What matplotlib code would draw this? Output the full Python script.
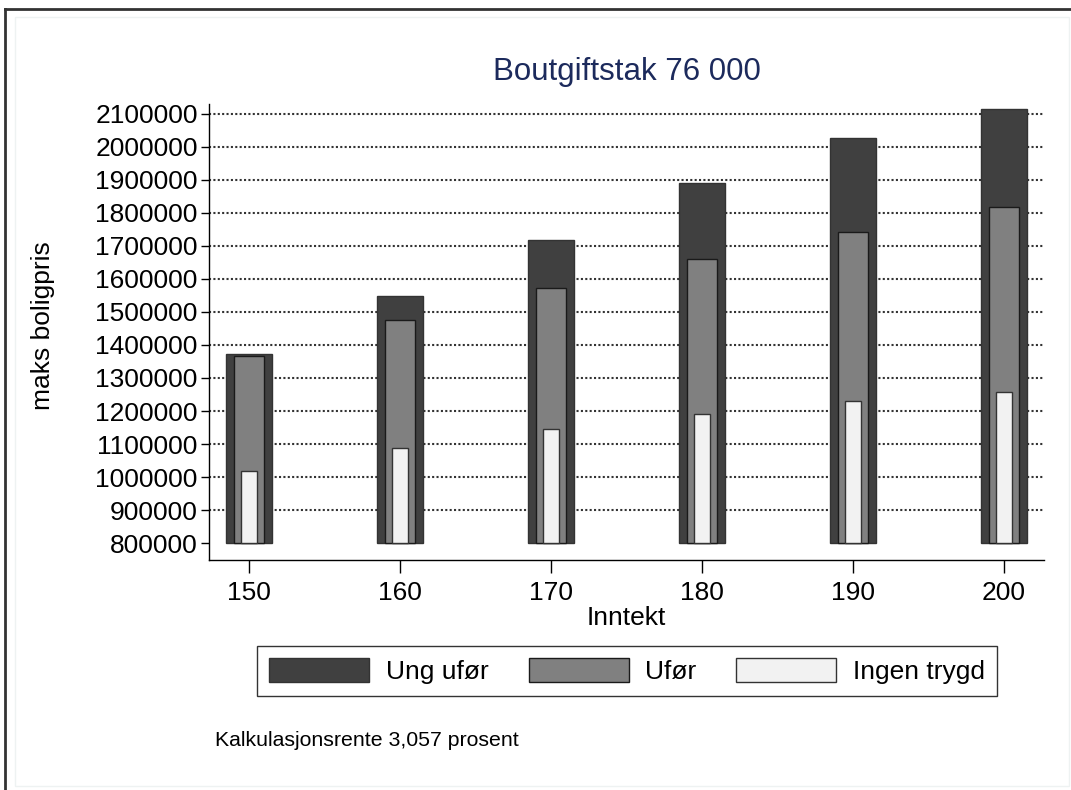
import matplotlib.pyplot as plt
from matplotlib.patches import Rectangle
from matplotlib.lines import Line2D
import numpy as np

plt.rcParams['font.family'] = ['Liberation Sans', 'DejaVu Sans']

inntekt = [150, 160, 170, 180, 190, 200]
ung_ufor = [1372700, 1548000, 1718000, 1892000, 2026000, 2114000]
ufor = [1368000, 1476000, 1572000, 1661000, 1743500, 1817000]
ingen_trygd = [1019000, 1087000, 1144000, 1192000, 1230000, 1256500]
base = 800000
yticks = np.arange(800000, 2100001, 100000)

fig = plt.figure(figsize=(10.71, 7.90), dpi=100)
ax = fig.add_axes([0.1951, 0.2911, 0.7797, 0.5773])

x = np.array(inntekt)
ax.bar(x, np.array(ung_ufor) - base, bottom=base, width=3.0,
       color='#404040', edgecolor='#333333', linewidth=1, zorder=2,
       label='Ung ufør')
ax.bar(x, np.array(ufor) - base, bottom=base, width=2.0,
       color='#808080', edgecolor='#1a1a1a', linewidth=1, zorder=3,
       label='Ufør')
ax.bar(x, np.array(ingen_trygd) - base, bottom=base, width=1.0,
       color='#f2f2f2', edgecolor='#333333', linewidth=1, zorder=4,
       label='Ingen trygd')

ax.set_xlim(147.35, 202.65)
ax.set_ylim(748600, 2130000)
ax.set_xticks(inntekt)
ax.set_yticks(yticks)
ax.set_yticklabels([str(v) for v in yticks])
ax.tick_params(axis='y', labelsize=19, length=6, width=1, pad=2)
ax.tick_params(axis='x', labelsize=19, length=9, width=1, pad=6)
for v in yticks[1:]:
    ax.axhline(v, color='#333333', linestyle=(0, (1, 1.1)), linewidth=1.5,
               zorder=1)

for s in ['top', 'right']:
    ax.spines[s].set_visible(False)
for s in ['left', 'bottom']:
    ax.spines[s].set_linewidth(1)

ax.set_xlabel('Inntekt', fontsize=19, labelpad=1)
ax.set_ylabel('maks boligpris', fontsize=19)
ax.yaxis.set_label_coords(-0.184, 0.515)
ax.set_title('Boutgiftstak 76 000', fontsize=22.5, color='#1c2a5c', pad=17)

leg = fig.legend(loc='center', bbox_to_anchor=(0.5857, 0.1506), ncol=3,
                 fontsize=19, handlelength=3.79, handleheight=1.02,
                 columnspacing=1.5, handletextpad=0.64, borderpad=0.45,
                 borderaxespad=0, frameon=True, fancybox=False,
                 edgecolor='black')
leg.get_frame().set_linewidth(1)

fig.text(215 / 1071, 1 - 741 / 790, 'Kalkulasjonsrente 3,057 prosent',
         fontsize=15.3, va='center', ha='left')

# graph region border and outer frame
fig.patches.append(Rectangle((15 / 1071, 1 - 786 / 790), 1054 / 1071,
                             769 / 790, transform=fig.transFigure,
                             fill=False, edgecolor='#eef2f2', linewidth=1))
fig.lines.append(Line2D([5 / 1071, 1], [1 - 9 / 790, 1 - 9 / 790],
                        transform=fig.transFigure, color='#333333',
                        linewidth=2))
fig.lines.append(Line2D([5 / 1071, 5 / 1071], [0, 1 - 9 / 790],
                        transform=fig.transFigure, color='#333333',
                        linewidth=2))

fig.savefig('out.png', dpi=100)
